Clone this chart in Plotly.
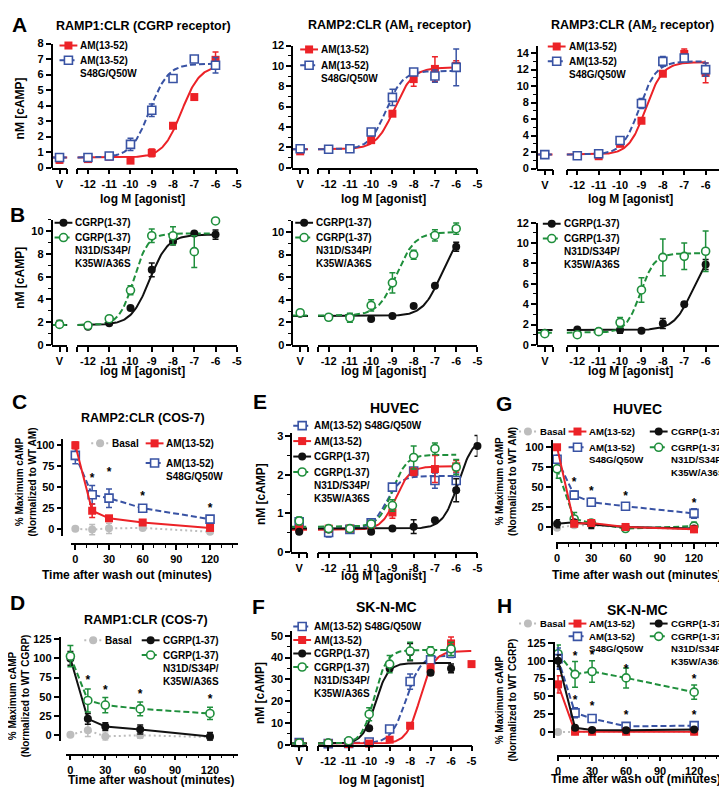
import numpy as np
import plotly.graph_objects as go

# ---------------- data ----------------
LOG_DOSE = [-12, -11, -10, -9, -8, -7, -6]
TIME = [0, 15, 30, 60, 120]
STAR_TIME = [15, 30, 60, 120]

# dose-response lists: first value is vehicle (V), then one per LOG_DOSE (+ -5 where given)
a1_am = [0.5, 0.55, 0.7, 0.45, 0.95, 2.7, 4.55, 6.95]
a1_am_err = [0.2, 0.1, 0.1, 0.1, 0.25, 0.1, 0.1, 0.5]
a1_mut = [0.65, 0.65, 0.75, 1.5, 3.7, 5.75, 7.0, 6.6]
a1_mut_err = [0.15, 0.1, 0.1, 0.4, 0.4, 0.1, 0.1, 0.5]
a2_am = [1.6, 1.8, 1.85, 2.7, 5.3, 8.7, 9.7, 10.0]
a2_am_err = [0.1, 0.1, 0.1, 0.15, 0.2, 0.7, 1.2, 0.5]
a2_mut = [1.85, 1.8, 1.85, 3.5, 6.9, 9.4, 9.0, 9.85]
a2_mut_err = [0.1, 0.1, 0.1, 0.2, 0.8, 0.2, 0.6, 1.8]
a3_am = [1.7, 1.6, 1.5, 3.0, 5.8, 11.5, 13.9, 11.6]
a3_am_err = [0.1, 0.2, 0.35, 0.2, 0.2, 0.3, 0.6, 1.2]
a3_mut = [1.7, 1.55, 1.8, 3.4, 7.9, 13.0, 13.4, 12.0]
a3_mut_err = [0.1, 0.1, 0.1, 0.3, 0.6, 0.6, 0.3, 0.8]

b1_cgrp = [1.85, 1.6, 1.9, 3.25, 6.6, 9.1, 9.8, 9.7]
b1_cgrp_err = [0.3, 0.1, 0.1, 0.1, 0.6, 0.3, 0.1, 0.4]
b1_cmut = [1.8, 1.7, 2.3, 4.8, 9.6, 9.6, 8.2, 10.9]
b1_cmut_err = [0.2, 0.1, 0.15, 0.4, 0.6, 0.8, 1.4, 0.1]
b2_cgrp = [2.75, 2.45, 2.5, 2.3, 2.55, 3.45, 5.25, 8.7]
b2_cgrp_err = [0.1, 0.1, 0.1, 0.1, 0.1, 0.1, 0.1, 0.4]
b2_cmut = [2.85, 2.45, 2.4, 3.5, 5.5, 8.0, 9.7, 10.3]
b2_cmut_err = [0.1, 0.1, 0.4, 0.5, 0.9, 0.4, 0.5, 0.5]
b3_cgrp = [1.2, 1.5, 1.35, 1.45, 1.4, 2.1, 4.0, 7.9]
b3_cgrp_err = [0.1, 0.1, 0.1, 0.3, 0.1, 0.5, 0.2, 0.5]
b3_cmut = [1.1, 1.0, 1.3, 2.2, 5.4, 8.6, 8.7, 9.2]
b3_cmut_err = [0.1, 0.1, 0.1, 0.5, 1.2, 1.8, 1.3, 2.0]

e_mut = [0.78, 0.5, 0.58, 0.75, 1.68, 2.1, 1.85, 1.85]
e_mut_err = [0.1, 0.12, 0.05, 0.05, 0.05, 0.05, 0.2, 0.2]
e_am = [0.6, 0.6, 0.6, 0.7, 1.02, 2.08, 2.15, 2.22]
e_am_err = [0.05, 0.05, 0.05, 0.05, 0.15, 0.1, 0.35, 0.15]
e_cgrp = [0.52, 0.58, 0.6, 0.52, 0.6, 0.65, 0.82, 1.6, 2.75]
e_cgrp_err = [0.05, 0.05, 0.05, 0.05, 0.03, 0.18, 0.03, 0.3, 0.27]
e_cmut = [0.8, 0.6, 0.6, 0.72, 1.2, 2.45, 2.68, 2.2]
e_cmut_err = [0.1, 0.05, 0.05, 0.05, 0.15, 0.3, 0.15, 0.2]

f_mut = [1.0, 0.5, 0.6, 1.2, 7.2, 29, 39, 42]
f_mut_err = [0.5, 0.3, 0.3, 0.5, 1, 3.5, 1.5, 2]
f_am = [0.8, 0.7, 0.3, 0.5, 2.3, 8.7, 35, 46.5, 37]
f_am_err = [0.3, 0.3, 0.3, 0.3, 0.5, 0.5, 2, 3, 0]
f_cgrp = [0.8, 1.0, 1.3, 7.5, 35, 42.5, 33, 35]
f_cgrp_err = [0.3, 0.3, 0.3, 0.5, 1, 4, 1, 2]
f_cmut = [0.8, 0.8, 1.8, 14, 37, 43, 43, 44]
f_cmut_err = [0.3, 0.3, 0.3, 3, 4, 4, 2, 3]

# fitted curve parameters: bottom, top, logEC50, hill
a1_am_fit, a1_mut_fit = (0.65, 6.6, -7.6, 1.0), (0.65, 6.7, -9.1, 1.0)
a2_am_fit, a2_mut_fit = (1.8, 9.85, -8.9, 1.0), (1.8, 9.5, -9.3, 1.1)
a3_am_fit, a3_mut_fit = (1.7, 12.9, -8.8, 1.1), (1.7, 13.0, -9.1, 1.1)
b1_cgrp_fit, b1_cmut_fit = (1.75, 9.7, -9.1, 1.0), (1.75, 9.8, -9.85, 1.3)
b2_cgrp_fit, b2_cmut_fit = (2.55, 10.0, -6.7, 1.0), (2.6, 10.0, -8.8, 1.0)
b3_cgrp_fit, b3_cmut_fit = (1.45, 9.5, -6.6, 1.0), (1.2, 9.0, -9.05, 1.3)
e_mut_fit, e_am_fit = (0.6, 1.97, -9.3, 1.3), (0.57, 2.22, -8.85, 1.3)
e_cgrp_fit, e_cmut_fit = (0.6, 3.0, -5.9, 1.2), (0.65, 2.52, -9.0, 1.3)
f_mut_fit, f_am_fit = (0.6, 41, -8.2, 1.2), (0.5, 43, -7.5, 1.3)
f_cgrp_fit, f_cmut_fit = (0.5, 37.5, -9.7, 1.4), (0.5, 43.5, -9.75, 1.4)

# wash-out time courses
c_basal, c_basal_err = [0.5, -0.5, 1, 1.5, -3], [1, 6, 6, 1.5, 1]
c_am, c_am_err = [100, 22, 13, 8, 1.5], [4, 8, 2, 2, 2]
c_mut, c_mut_err = [88, 41, 37, 25, 12], [10, 11, 11, 4, 3]
c_star = [60, 67, 38, 24]

d_basal, d_basal_err = [0, 6, -2, -0.5, -3], [1, 8, 6, 4, 3]
d_cgrp, d_cgrp_err = [100, 21, 11, 7, -2], [9, 7, 5, 6, 5]
d_cmut, d_cmut_err = [103, 45, 39, 34, 28], [14, 15, 10, 9, 8]
d_star = [71, 57, 52, 45]

g_basal, g_basal_err = [-1, 2, 2, 0, -3], [1, 1, 1, 1, 1]
g_mut, g_mut_err = [85, 40, 31, 26, 17], [5, 5, 5, 2, 6]
g_cmut, g_cmut_err = [73, 10, 5, -2, 1], [12, 8, 3, 3, 5]
g_cgrp, g_cgrp_err = [4, 6, 3, 0, -2], [5, 3, 5, 3, 2]
g_am, g_am_err = [100, 4, 5, 0, -3], [2, 3, 3, 2, 3]
g_star = [55, 44, 37, 29]

h_basal, h_basal_err = [0, 0.5, 0.5, 0.5, 0.5], [1, 1, 1, 1, 1]
h_cmut, h_cmut_err = [110, 81, 85, 76, 56], [12, 18, 15, 14, 10]
h_mut, h_mut_err = [103, 27, 19, 8, 9], [15, 7, 5, 2, 1]
h_am, h_am_err = [67, 0.5, 0.5, 0.5, 0.5], [12, 1, 1, 1, 1]
h_cgrp, h_cgrp_err = [100, 6, 3, 2.5, 3.5], [8, 1, 1, 1, 1]
h_star_cmut = [106, 107, 87, 73]
h_star_mut = [43, 35, 22, 22]

# ---------------- styles ----------------
W, H = 727, 787
FONT = "Liberation Sans, Arial, sans-serif"
RED, BLUE, GREEN, BLACK, GRAY = "#ec2227", "#3953a4", "#1f8f3c", "#111111", "#bdbdbd"

LBL_AM = "AM(13-52)"
LBL_MUT = "AM(13-52)<br>S48G/Q50W"
LBL_MUT1 = "AM(13-52) S48G/Q50W"
LBL_CGRP = "CGRP(1-37)"
LBL_CMUT = "CGRP(1-37)<br>N31D/S34P/<br>K35W/A36S"

STYLE = {
    "am": dict(color=RED, symbol="square", open=False, dash="solid"),
    "mut": dict(color=BLUE, symbol="square", open=True, dash="6px,3px"),
    "cgrp": dict(color=BLACK, symbol="circle", open=False, dash="solid"),
    "cmut": dict(color=GREEN, symbol="circle", open=True, dash="6px,3px"),
    "basal": dict(color=GRAY, symbol="circle", open=False, dash="2px,3px"),
}


def fx(px):
    return px / W


def fy(py):
    return 1 - py / H


def marker(st):
    if st["open"]:
        return dict(symbol=st["symbol"], size=8, color="white",
                    line=dict(color=st["color"], width=1.6))
    return dict(symbol=st["symbol"], size=8, color=st["color"], line=dict(width=0))


def errbar(st, err):
    return dict(type="data", array=err, color=st["color"], thickness=1.5, width=3)


def logistic(x, p):
    bottom, top, ec50, hill = p
    return bottom + (top - bottom) / (1 + 10 ** ((ec50 - x) * hill))


AX = dict(showline=True, linecolor="black", linewidth=1.6, ticks="outside", ticklen=5,
          tickwidth=1.6, tickcolor="black", showgrid=False, zeroline=False,
          tickfont=dict(size=11, color="black", family=FONT, weight="bold"))
MINOR = dict(ticklen=3, tickwidth=1.4, ticks="outside", tickcolor="black")

fig = go.Figure()
layout = {}
annotations = []
counts = {"x": 0, "y": 0}


def new_axis(kind, **kw):
    counts[kind] += 1
    n = counts[kind]
    layout[kind + "axis" + ("" if n == 1 else str(n))] = kw
    return kind + ("" if n == 1 else str(n))


def text(x, y, s, size=12, **kw):
    opts = dict(xanchor="center", yanchor="middle")
    opts.update(kw)
    annotations.append(dict(x=fx(x), y=fy(y), xref="paper", yref="paper", text=s,
                            showarrow=False, borderpad=0,
                            font=dict(size=size, color="black", family=FONT, weight="bold"),
                            **opts))


def dose_panel(yx, vend, mstart, mend, ybot, ytop, ymax, dtick, minor, series):
    ya = new_axis("y", domain=[fy(ybot), fy(ytop)], range=[0, ymax], anchor="free",
                  position=fx(yx), tick0=0, dtick=dtick,
                  minor=dict(dtick=minor, **MINOR) if minor else None, **AX)
    xv = new_axis("x", domain=[fx(yx), fx(vend)], range=[-1, 1], anchor=ya,
                  tickvals=[0, 1], ticktext=["V", ""], **AX)
    xm = new_axis("x", domain=[fx(mstart), fx(mend)], range=[-12.5, -5], anchor=ya,
                  tickvals=[-12.5] + LOG_DOSE + [-5],
                  ticktext=[""] + [str(d) for d in LOG_DOSE] + ["-5"], **AX)
    # curves first, points on top
    for key, vals, errs, fit in series:
        st = STYLE[key]
        xend = -5 if len(vals) > len(LOG_DOSE) + 1 else -6
        cx = np.linspace(-12.5, xend, 150)
        fig.add_trace(go.Scatter(x=cx, y=logistic(cx, fit), mode="lines",
                                 line=dict(color=st["color"], width=2, dash=st["dash"]),
                                 showlegend=False, xaxis=xm, yaxis=ya, hoverinfo="skip"))
        fig.add_trace(go.Scatter(x=[-1, 1], y=[fit[0], fit[0]], mode="lines",
                                 line=dict(color=st["color"], width=2, dash=st["dash"]),
                                 showlegend=False, xaxis=xv, yaxis=ya, hoverinfo="skip"))
    for key, vals, errs, fit in series:
        st = STYLE[key]
        doses = (LOG_DOSE + [-5])[:len(vals) - 1]
        fig.add_trace(go.Scatter(x=[0], y=vals[:1], mode="markers", marker=marker(st),
                                 error_y=errbar(st, errs[:1]), showlegend=False,
                                 cliponaxis=False, xaxis=xv, yaxis=ya))
        fig.add_trace(go.Scatter(x=doses, y=vals[1:], mode="markers", marker=marker(st),
                                 error_y=errbar(st, errs[1:]), showlegend=False,
                                 cliponaxis=False, xaxis=xm, yaxis=ya))


def time_panel(yx, xstart, xend, xline, ybot, ytop, yrange, xrange, ymax_tick,
               series, stars):
    ya = new_axis("y", domain=[fy(ybot), fy(ytop)], range=yrange, anchor="free",
                  position=fx(yx), tickvals=list(range(0, ymax_tick + 1, 25)), **AX)
    xa = new_axis("x", domain=[fx(xstart), fx(xend)], range=xrange, anchor="free",
                  position=fy(xline), tickvals=[0, 30, 60, 90, 120],
                  minor=dict(tickvals=[10, 20, 40, 50, 70, 80, 100, 110, 130, 140], **MINOR),
                  **AX)
    for key, vals, errs in series:
        st = STYLE[key]
        fig.add_trace(go.Scatter(x=TIME, y=vals, mode="lines+markers", marker=marker(st),
                                 line=dict(color=st["color"], width=2, dash=st["dash"]),
                                 error_y=errbar(st, errs), showlegend=False,
                                 cliponaxis=False, xaxis=xa, yaxis=ya))
    for sy in stars:
        fig.add_trace(go.Scatter(x=STAR_TIME, y=sy, mode="text", text=["*"] * len(sy),
                                 textfont=dict(size=12, color="black", family=FONT),
                                 showlegend=False, cliponaxis=False,
                                 xaxis=xa, yaxis=ya, hoverinfo="skip"))


# ---------------- panels ----------------
dose_panel(42, 58, 68, 229, 156, 30, 8, 1, None,
           [("am", a1_am, a1_am_err, a1_am_fit), ("mut", a1_mut, a1_mut_err, a1_mut_fit)])
dose_panel(285, 301, 311, 472, 156, 32, 12, 2, 1,
           [("am", a2_am, a2_am_err, a2_am_fit), ("mut", a2_mut, a2_mut_err, a2_mut_fit)])
dose_panel(532, 548, 562, 724, 157, 33, 14.8, 2, 1,
           [("am", a3_am, a3_am_err, a3_am_fit), ("mut", a3_mut, a3_mut_err, a3_mut_fit)])

dose_panel(42, 58, 68, 229, 336, 209, 11, 2, 1,
           [("cgrp", b1_cgrp, b1_cgrp_err, b1_cgrp_fit),
            ("cmut", b1_cmut, b1_cmut_err, b1_cmut_fit)])
dose_panel(285, 301, 311, 472, 336, 210, 11, 2, 1,
           [("cgrp", b2_cgrp, b2_cgrp_err, b2_cgrp_fit),
            ("cmut", b2_cmut, b2_cmut_err, b2_cmut_fit)])
dose_panel(532, 548, 562, 724, 336, 212, 12, 2, 1,
           [("cgrp", b3_cgrp, b3_cgrp_err, b3_cgrp_fit),
            ("cmut", b3_cmut, b3_cmut_err, b3_cmut_fit)])

dose_panel(284, 300, 311, 472, 546, 425, 3.1, 1, 0.5,
           [("mut", e_mut, e_mut_err, e_mut_fit), ("am", e_am, e_am_err, e_am_fit),
            ("cgrp", e_cgrp, e_cgrp_err, e_cgrp_fit), ("cmut", e_cmut, e_cmut_err, e_cmut_fit)])
dose_panel(284, 300, 311, 466, 742, 627, 52, 10, 5,
           [("mut", f_mut, f_mut_err, f_mut_fit), ("am", f_am, f_am_err, f_am_fit),
            ("cgrp", f_cgrp, f_cgrp_err, f_cgrp_fit), ("cmut", f_cmut, f_cmut_err, f_cmut_fit)])

time_panel(53, 62, 230, 538, 530, 432, [-8, 107], [-3.5, 144.7], 100,
           [("basal", c_basal, c_basal_err), ("mut", c_mut, c_mut_err),
            ("am", c_am, c_am_err)], [c_star])
time_panel(50, 57, 230, 752, 738, 633, [-7.7, 127.6], [-3.4, 143.9], 125,
           [("basal", d_basal, d_basal_err), ("cgrp", d_cgrp, d_cgrp_err),
            ("cmut", d_cmut, d_cmut_err)], [d_star])
time_panel(547, 551, 716, 537, 529, 433, [-10, 108.6], [-1.2, 142], 100,
           [("basal", g_basal, g_basal_err), ("cmut", g_cmut, g_cmut_err),
            ("mut", g_mut, g_mut_err), ("cgrp", g_cgrp, g_cgrp_err),
            ("am", g_am, g_am_err)], [g_star])
time_panel(549, 552, 716, 753, 735, 638, [-8, 126], [-1.2, 142], 125,
           [("basal", h_basal, h_basal_err), ("cmut", h_cmut, h_cmut_err),
            ("mut", h_mut, h_mut_err), ("am", h_am, h_am_err),
            ("cgrp", h_cgrp, h_cgrp_err)], [h_star_cmut, h_star_mut])

# ---------------- legends (pixel overlay) ----------------
ov_y = "y%d" % (counts["y"] + 1)
ov_x = new_axis("x", domain=[0, 1], range=[0, W], anchor=ov_y, visible=False)
new_axis("y", domain=[0, 1], range=[H, 0], anchor=ov_x, visible=False)


def legend(x, y, step, entries, size=10):
    for i, (key, label) in enumerate(entries):
        st = STYLE[key]
        yc = y + i * step
        fig.add_trace(go.Scatter(x=[x, x + 18], y=[yc, yc], mode="lines",
                                 line=dict(color=st["color"], width=2, dash=st["dash"]),
                                 showlegend=False, xaxis=ov_x, yaxis=ov_y, hoverinfo="skip"))
        fig.add_trace(go.Scatter(x=[x + 9], y=[yc], mode="markers", marker=marker(st),
                                 showlegend=False, xaxis=ov_x, yaxis=ov_y, hoverinfo="skip"))
        text(x + 20, yc - 0.65 * size, label, size, xanchor="left", yanchor="top",
             align="left")


legend(50, 32, 15, [("am", LBL_AM), ("mut", LBL_MUT)])
legend(293, 36, 16, [("am", LBL_AM), ("mut", LBL_MUT)])
legend(543, 33, 15, [("am", LBL_AM), ("mut", LBL_MUT)])
legend(45, 212, 15, [("cgrp", LBL_CGRP), ("cmut", LBL_CMUT)])
legend(288, 212, 15, [("cgrp", LBL_CGRP), ("cmut", LBL_CMUT)])
legend(538, 213, 15, [("cgrp", LBL_CGRP), ("cmut", LBL_CMUT)])
legend(286, 418, 15.7, [("mut", LBL_MUT1), ("am", LBL_AM), ("cgrp", LBL_CGRP),
                        ("cmut", LBL_CMUT)])
legend(286, 622, 13.7, [("mut", LBL_MUT1), ("am", LBL_AM), ("cgrp", LBL_CGRP),
                        ("cmut", LBL_CMUT)])
legend(82, 436, 20, [("basal", "Basal")])
legend(137, 436, 20, [("am", LBL_AM), ("mut", LBL_MUT)])
legend(75, 636, 15, [("basal", "Basal")])
legend(133, 636, 15, [("cgrp", LBL_CGRP), ("cmut", LBL_CMUT)])
legend(514, 424, 16, [("basal", "Basal")], 9.6)
legend(564, 424, 16, [("am", LBL_AM), ("mut", LBL_MUT)], 9.6)
legend(646, 424, 16, [("cgrp", LBL_CGRP), ("cmut", LBL_CMUT)], 9.6)
legend(514, 619, 13, [("basal", "Basal")], 9.6)
legend(564, 619, 13, [("am", LBL_AM), ("mut", LBL_MUT)], 9.6)
legend(646, 619, 13, [("cgrp", LBL_CGRP), ("cmut", LBL_CMUT)], 9.6)

# ---------------- text ----------------
for letter, x, y in [("A", 10, 11), ("B", 8, 204), ("C", 10, 393), ("D", 8, 598),
                     ("E", 252, 393), ("F", 251, 602), ("G", 499, 396), ("H", 499, 601)]:
    text(x, y, letter, size=21)

text(135, 12, "RAMP1:CLR (CGRP receptor)", 12.5)
text(383, 12, "RAMP2:CLR (AM<sub>1</sub> receptor)", 12.5)
text(629, 12, "RAMP3:CLR (AM<sub>2</sub> receptor)", 12.5)
text(134, 410, "RAMP2:CLR (COS-7)", 12.5)
text(137, 615, "RAMP1:CLR (COS-7)", 12.5)
text(388, 400, "HUVEC", 14)
text(380, 602, "SK-N-MC", 14)
text(634, 401, "HUVEC", 14)
text(634, 605, "SK-N-MC", 14)

for x, y in [(134, 188), (377, 188), (627, 188), (134, 363), (377, 363), (627, 363),
             (377, 571), (375, 778)]:
    text(x, y, "log M [agonist]", 12)
text(118, 570, "Time after wash out (minutes)", 12)
text(142, 778, "Time after washout (minutes)", 12)
text(633, 570, "Time after wash out (minutes)", 12)
text(632, 777, "Time after wash out (minutes)", 12)

for x, y in [(10, 96), (10, 268), (253, 488), (253, 690)]:
    text(x, y, "nM [cAMP]", 12, textangle=-90)
for x, y, s in [(16, 475, "% Maximum cAMP<br>(Normalized to WT AM)"),
                (10, 692, "% Maximum cAMP<br>(Normalized to WT CGRP)"),
                (501, 475, "% Maximum cAMP<br>(Normalized to WT AM)"),
                (501, 697, "% Maximum cAMP<br>(Normalized to WT CGRP)")]:
    text(x, y, s, 10, textangle=-90)

fig.update_layout(**layout)
fig.update_layout(width=W, height=H, autosize=False, margin=dict(l=0, r=0, t=0, b=0),
                  plot_bgcolor="rgba(0,0,0,0)", paper_bgcolor="white", showlegend=False,
                  font=dict(family=FONT, color="black", weight="bold"),
                  annotations=annotations)

fig.write_html("out.html")
